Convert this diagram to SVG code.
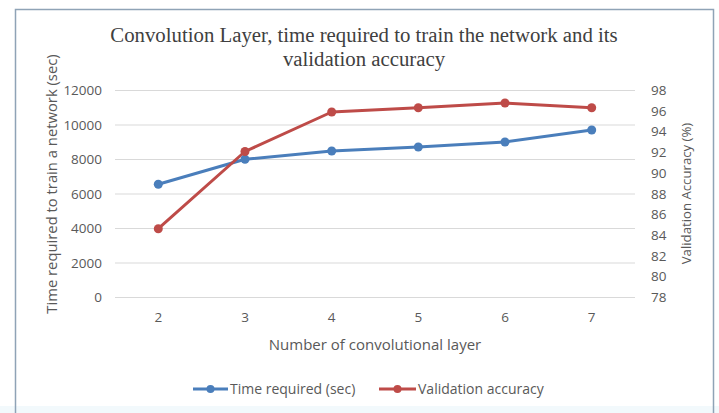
<svg xmlns="http://www.w3.org/2000/svg" width="719" height="413" viewBox="0 0 719 413">
<style>
.grid{stroke:#D9D9D9;stroke-width:1;fill:none}
.lab{font-family:"Open Sans","Liberation Sans",sans-serif;font-size:13.5px;fill:#595959}
.title{font-family:"Liberation Serif","Times New Roman",serif;font-size:20.8px;fill:#404040}
.blue{stroke:#4A7EBB;stroke-width:3;fill:none;stroke-linejoin:round}
.red{stroke:#BE4B48;stroke-width:3;fill:none;stroke-linejoin:round}
.bm{fill:#4A7EBB}
.rm{fill:#BE4B48}
</style>
<rect x="0" y="0" width="719" height="413" fill="#FFFFFF"/>
<rect x="0" y="406" width="719" height="7" fill="#F2F9FC"/>
<rect x="15.5" y="9.5" width="698" height="420" fill="none" stroke="#8FA3B6" stroke-width="1.5"/>
<g id="title">
<text class="title" x="364" y="42" text-anchor="middle">Convolution Layer, time required to train the network and its</text>
<text class="title" x="364" y="66" text-anchor="middle">validation accuracy</text>
</g>
<g id="gridlines">
<line class="grid" x1="115" y1="90.5" x2="635" y2="90.5"/>
<line class="grid" x1="115" y1="125" x2="635" y2="125"/>
<line class="grid" x1="115" y1="159.5" x2="635" y2="159.5"/>
<line class="grid" x1="115" y1="194" x2="635" y2="194"/>
<line class="grid" x1="115" y1="228.5" x2="635" y2="228.5"/>
<line class="grid" x1="115" y1="263" x2="635" y2="263"/>
<line class="grid" x1="115" y1="297.5" x2="635" y2="297.5"/>
</g>
<g id="left-axis" class="lab" text-anchor="end">
<text x="102" y="95">12000</text>
<text x="102" y="129.5">10000</text>
<text x="102" y="164">8000</text>
<text x="102" y="198.5">6000</text>
<text x="102" y="233">4000</text>
<text x="102" y="267.5">2000</text>
<text x="102" y="302">0</text>
</g>
<g id="right-axis" class="lab">
<text x="651" y="95">98</text>
<text x="651" y="115.7">96</text>
<text x="651" y="136.4">94</text>
<text x="651" y="157.1">92</text>
<text x="651" y="177.8">90</text>
<text x="651" y="198.5">88</text>
<text x="651" y="219.2">86</text>
<text x="651" y="239.9">84</text>
<text x="651" y="260.6">82</text>
<text x="651" y="281.3">80</text>
<text x="651" y="302">78</text>
</g>
<g id="x-axis" class="lab" text-anchor="middle">
<text x="158.3" y="322">2</text>
<text x="245" y="322">3</text>
<text x="331.7" y="322">4</text>
<text x="418.3" y="322">5</text>
<text x="505" y="322">6</text>
<text x="591.7" y="322">7</text>
<text x="375" y="350" style="font-size:15px">Number of convolutional layer</text>
</g>
<g id="axis-titles" class="lab" text-anchor="middle">
<text transform="translate(57,184) rotate(-90)" style="font-size:14.8px">Time required to train a network (sec)</text>
<text transform="translate(690.5,193.5) rotate(-90)" style="font-size:13.2px">Validation Accuracy (%)</text>
</g>
<g id="connectors">
<polyline class="blue" points="158.3,184.3 245,159.3 331.7,151 418.3,147 505,142 591.7,130"/>
<polyline class="red" points="158.3,228.7 245,151.5 331.7,112 418.3,107.7 505,103 591.7,107.7"/>
</g>
<g id="blue-markers" class="bm">
<circle cx="158.3" cy="184.3" r="4.5"/>
<circle cx="245" cy="159.3" r="4.5"/>
<circle cx="331.7" cy="151" r="4.5"/>
<circle cx="418.3" cy="147" r="4.5"/>
<circle cx="505" cy="142" r="4.5"/>
<circle cx="591.7" cy="130" r="4.5"/>
</g>
<g id="red-markers" class="rm">
<circle cx="158.3" cy="228.7" r="4.5"/>
<circle cx="245" cy="151.5" r="4.5"/>
<circle cx="331.7" cy="112" r="4.5"/>
<circle cx="418.3" cy="107.7" r="4.5"/>
<circle cx="505" cy="103" r="4.5"/>
<circle cx="591.7" cy="107.7" r="4.5"/>
</g>
<g id="legend">
<line class="blue" x1="193" y1="389" x2="228" y2="389"/>
<circle class="bm" cx="210.5" cy="389" r="4"/>
<text class="lab" x="230" y="393.5" style="font-size:14px">Time required (sec)</text>
<line class="red" x1="379" y1="389" x2="416" y2="389"/>
<circle class="rm" cx="397.5" cy="389" r="4"/>
<text class="lab" x="418" y="393.5" style="font-size:14px">Validation accuracy</text>
</g>
</svg>
